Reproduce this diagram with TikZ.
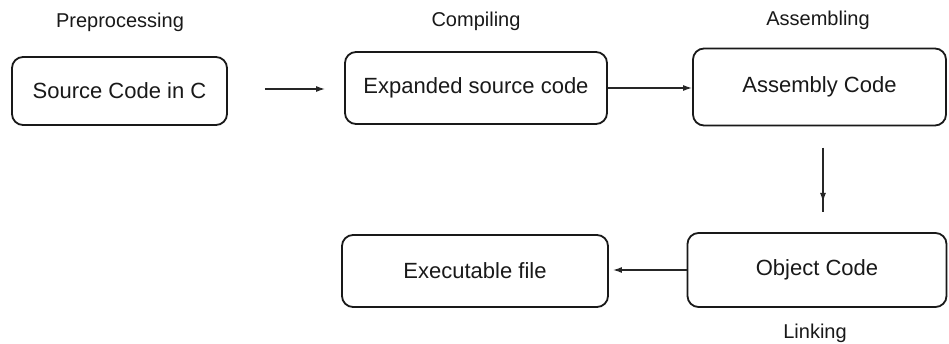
\documentclass[tikz,border=0pt]{standalone}
\usepackage{fontspec}
\setmainfont{Liberation Sans}
\usetikzlibrary{arrows.meta,calc}
\begin{document}
\begin{tikzpicture}[x=1pt,y=-1pt,
  stage/.style={draw=black!90,line width=1.8pt,rounded corners=11pt,fill=white,
    font=\fontsize{22}{26}\selectfont,text=black!90,inner sep=0pt},
  lbl/.style={font=\fontsize{20}{24}\selectfont,text=black!90,inner sep=0pt},
  arr/.style={line width=1.4pt,draw=black!85,-{Latex[length=9pt,width=6pt]}},
  plain/.style={line width=1.4pt,draw=black!85}]
\fill[white] (0,0) rectangle (949,344);
\useasboundingbox (0,0) rectangle (949,344);

\node[stage,minimum width=215pt,minimum height=68pt] (b1) at (119.5,91) {Source Code in C};
\node[stage,minimum width=262pt,minimum height=72pt] (b2) at (476,88) {Expanded source code};
\node[stage,minimum width=253pt,minimum height=77pt] (b3) at (819.5,87) {Assembly Code};
\node[stage,minimum width=259pt,minimum height=74pt] (b4) at (817,270) {Object Code};
\node[stage,minimum width=266pt,minimum height=72pt] (b5) at (475,271) {Executable file};

\node[lbl] (l1) at (120,22) {Preprocessing};
\node[lbl] (l2) at (476,21) {Compiling};
\node[lbl] (l3) at (818,20) {Assembling};
\node[lbl] (l4) at (815,333) {Linking};

\coordinate (a1s) at ($(b1.east)+(37,-2)$);
\coordinate (a1e) at ($(b2.west)+(-19,1)$);
\draw[arr] (a1s) -- (a1e);
\draw[arr] (b2.east) -- (b2.east -| b3.west);

\coordinate (v1) at (823,148);
\coordinate (v2) at (823,202);
\coordinate (v3) at (823,212);
\draw[plain] (v1) -- (v3);
\draw[arr] (v1) -- (v2);

\draw[arr,shorten >=4pt] (b4.west) -- (b4.west -| b5.east);
\end{tikzpicture}
\end{document}
